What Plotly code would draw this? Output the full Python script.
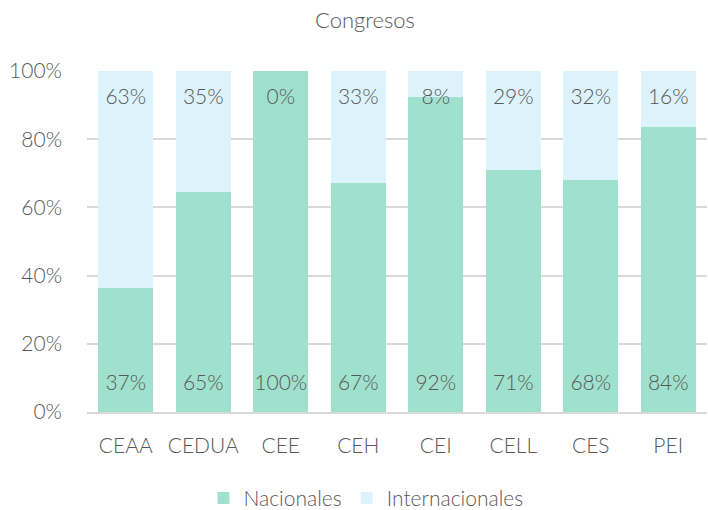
import plotly.graph_objects as go

categories = ["CEAA", "CEDUA", "CEE", "CEH", "CEI", "CELL", "CES", "PEI"]
nacionales = [37, 65, 100, 67, 92, 71, 68, 84]
internacionales = [63, 35, 0, 33, 8, 29, 32, 16]
nac_heights = [36.5, 64.5, 100, 67.2, 92.4, 71.0, 68.0, 83.6]
yticks = [0, 20, 40, 60, 80, 100]
ytick_labels = ["0%", "20%", "40%", "60%", "80%", "100%"]

FONT = "Lato, 'Open Sans', sans-serif"
TXT = "#595959"
C_NAC = "#A0E1CD"
C_INT = "#DDF3FB"
W = 300

int_heights = [100 - v for v in nac_heights]

fig = go.Figure()
fig.add_trace(go.Bar(x=categories, y=nac_heights, name="Nacionales",
                     marker=dict(color=C_NAC, line=dict(width=0)), hoverinfo="skip"))
fig.add_trace(go.Bar(x=categories, y=int_heights, name="Internacionales",
                     marker=dict(color=C_INT, line=dict(width=0)), hoverinfo="skip"))

fig.add_trace(go.Scatter(x=categories, y=[8] * len(categories), mode="text",
                         text=[f"{v}%" for v in nacionales], showlegend=False,
                         textfont=dict(family=FONT, size=21, color=TXT, weight=W), hoverinfo="skip"))
fig.add_trace(go.Scatter(x=categories, y=[92] * len(categories), mode="text",
                         text=[f"{v}%" for v in internacionales], showlegend=False,
                         textfont=dict(family=FONT, size=21, color=TXT, weight=W), hoverinfo="skip"))

fig.update_layout(
    width=708, height=510,
    barmode="stack", bargap=0.29,
    plot_bgcolor="white", paper_bgcolor="white",
    margin=dict(l=87, r=1, t=71, b=98, autoexpand=False),
    font=dict(family=FONT, size=20, color=TXT, weight=W),
    title=dict(text="Congresos", x=365 / 708, xref="container", xanchor="center",
               y=1 - 20 / 510, yref="container", yanchor="middle",
               font=dict(family=FONT, size=22, color=TXT, weight=W)),
    legend=dict(orientation="h", x=0.45, xanchor="center", y=-0.253, yanchor="middle",
                font=dict(family=FONT, size=21, color=TXT, weight=W), traceorder="normal"),
    showlegend=True,
)
fig.update_xaxes(showgrid=False, showline=True, linecolor="#D9D9D9", linewidth=1.5,
                 ticks="", ticklabelstandoff=14,
                 tickfont=dict(family=FONT, size=21, color=TXT, weight=W))
fig.update_yaxes(range=[0, 100], tickvals=yticks, ticktext=ytick_labels,
                 showgrid=True, gridcolor="#D9D9D9", gridwidth=1.5, zeroline=False,
                 showline=False, ticks="", ticklabelstandoff=24,
                 tickfont=dict(family=FONT, size=21, color=TXT, weight=W))

fig.write_html("out.html", config={"displayModeBar": False},
               post_script="document.body.style.margin='0';document.body.style.padding='0';")
